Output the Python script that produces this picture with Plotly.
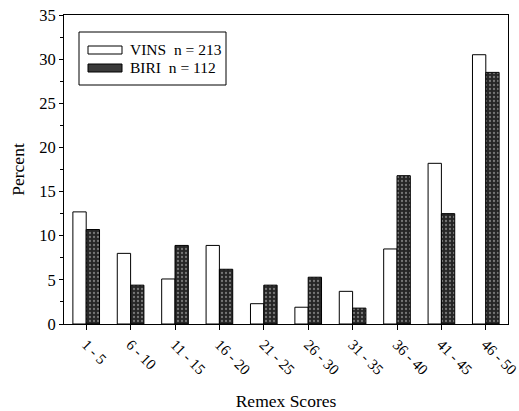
import plotly.graph_objects as go

categories = ["1 - 5", "6 - 10", "11 - 15", "16 - 20", "21 - 25",
              "26 - 30", "31 - 35", "36 - 40", "41 - 45", "46 - 50"]
vins = [12.7, 8.0, 5.1, 8.9, 2.3, 1.9, 3.7, 8.5, 18.2, 30.5]
biri = [10.7, 4.4, 8.9, 6.2, 4.4, 5.3, 1.8, 16.8, 12.5, 28.5]
vins_label = "VINS  n = 213"
biri_label = "BIRI  n = 112"

FONT = "Liberation Serif"
DARK = "#262626"

fig = go.Figure()
fig.add_trace(go.Bar(x=categories, y=vins, name=vins_label,
                     marker=dict(color="white", line=dict(color="black", width=1)),
                     offset=-0.3, width=0.3, showlegend=False))
fig.add_trace(go.Bar(x=categories, y=biri, name=biri_label,
                     marker=dict(color=DARK, line=dict(color="black", width=1),
                                 pattern=dict(shape=".", fgcolor="#c8c8c8", size=4,
                                              solidity=0.25, fillmode="overlay")),
                     offset=0.0, width=0.3, showlegend=False))

# manual legend (box, swatches, labels) in paper coordinates
L, R, T, B = 64, 11, 15, 87
pw, ph = 519 - L - R, 411 - T - B
def px(x):
    return (x - L) / pw
def py(y):
    return (411 - B - y) / ph

fig.add_shape(type="rect", xref="paper", yref="paper",
              x0=px(79), x1=px(226), y0=py(85), y1=py(32),
              line=dict(color="black", width=1), fillcolor="white", layer="above")
fig.add_shape(type="rect", xref="paper", yref="paper",
              x0=px(88), x1=px(122), y0=py(54), y1=py(46),
              line=dict(color="black", width=1), fillcolor="white", layer="above")
fig.add_shape(type="rect", xref="paper", yref="paper",
              x0=px(88), x1=px(122), y0=py(72), y1=py(64),
              line=dict(color="black", width=1), fillcolor="#3a3a3a", layer="above")
fig.add_annotation(xref="paper", yref="paper", x=px(128), y=py(49.5),
                   text=vins_label, showarrow=False, xanchor="left", yanchor="middle",
                   font=dict(family=FONT, size=15.5, color="black"))
fig.add_annotation(xref="paper", yref="paper", x=px(128), y=py(68),
                   text=biri_label, showarrow=False, xanchor="left", yanchor="middle",
                   font=dict(family=FONT, size=15.5, color="black"))

fig.update_layout(
    width=519, height=411,
    margin=dict(l=L, r=R, t=T, b=B),
    paper_bgcolor="white", plot_bgcolor="white",
    font=dict(family=FONT, size=16, color="black"),
    bargap=0.4,
)
fig.update_xaxes(
    range=[-0.5, 9.5], showline=True, linecolor="black", linewidth=1, mirror=True,
    ticks="outside", ticklen=5, tickcolor="black", tickangle=45,
    tickfont=dict(family=FONT, size=15), automargin=False,
    title=dict(text="Remex Scores", font=dict(family=FONT, size=17.5), standoff=22),
    showgrid=False,
)
fig.update_yaxes(
    range=[0, 35], dtick=5, showline=True, linecolor="black", linewidth=1, mirror=True,
    ticks="outside", ticklen=4, tickcolor="black",
    minor=dict(dtick=2.5, ticks="outside", ticklen=3, tickcolor="black"),
    tickfont=dict(family=FONT, size=16.5), automargin=False,
    title=dict(text="Percent", font=dict(family=FONT, size=17.5), standoff=10),
    showgrid=False, zeroline=False,
)

fig.write_html("out.html")
